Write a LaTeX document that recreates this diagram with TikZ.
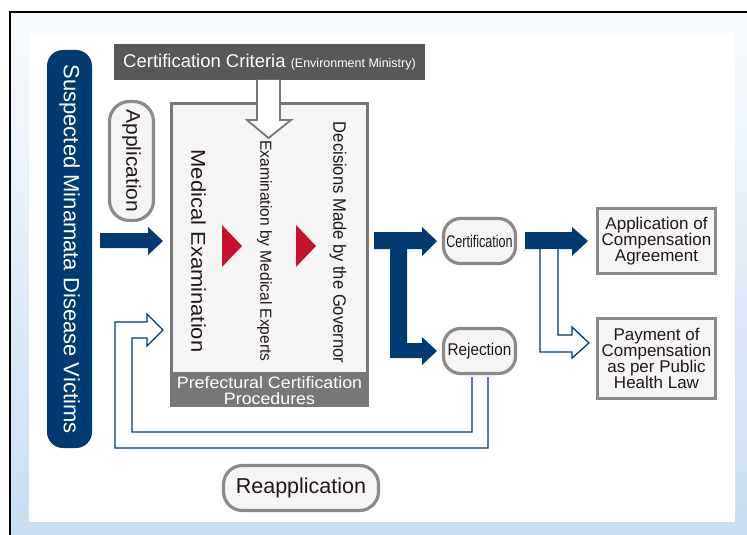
\documentclass[tikz,border=0pt]{standalone}
\usepackage{fontspec}
\usepackage{graphicx}
\setmainfont{Liberation Sans}
\definecolor{navy}{HTML}{003A70}
\definecolor{dgray}{HTML}{595757}
\definecolor{mgray}{HTML}{777777}
\definecolor{bgray}{HTML}{8A8A8A}
\definecolor{lfill}{HTML}{F5F5F5}
\definecolor{redtri}{HTML}{C8102E}
\definecolor{txt}{HTML}{231815}
\definecolor{bgtop}{HTML}{F9FBFE}
\definecolor{bgbot}{HTML}{C8DDF2}
\begin{document}
\begin{tikzpicture}[x=1pt,y=-1pt,
  pill/.style={draw=bgray, line width=3.2pt, fill=lfill, rounded corners=17pt, text=txt, inner sep=0pt},
  resbox/.style={draw=bgray, line width=3pt, fill=lfill, text=txt, align=center, inner sep=0pt, font=\fontsize{17}{16}\selectfont},
  lbl/.style={text=txt, inner sep=0pt},
  navyarrow/.style={fill=navy},
  hollow/.style={draw=navy, fill=white, line width=1.3pt, line join=miter},
]
\useasboundingbox (0,0) rectangle (747,535);
% background
\fill[white] (0,0) rectangle (747,535);
\shade[top color=bgtop, bottom color=bgbot] (10,12) rectangle (747,535);
\draw[black, line width=1.4pt] (747,12) -- (10,12) -- (10,535);
\fill[white] (29,33) rectangle (735,522);

% victims
\node[fill=navy, rounded corners=16pt, rotate=-90, minimum width=398pt, minimum height=45pt,
      text=white, font=\fontsize{22}{22}\selectfont, inner sep=0pt] (victims) at (69.5,249)
      {Suspected Minamata Disease Victims};

% criteria
\node[fill=dgray, minimum width=311pt, minimum height=36pt, text=white, inner sep=0pt] (crit) at (269.5,62)
      {\fontsize{18.5}{18}\selectfont Certification Criteria \fontsize{12.5}{12}\selectfont(Environment Ministry)};

% procedure box
\node[draw=mgray, line width=3.5pt, fill=lfill, minimum width=196pt, minimum height=302pt, inner sep=0pt] (proc) at (269.5,254.5) {};
\fill[mgray] (170,372) rectangle (369,407);
\node[text=white, align=center, inner sep=0pt, font=\fontsize{16.5}{16}\selectfont] (band) at (269.5,391)
      {\scalebox{1.08}[1]{Prefectural Certification}\\\scalebox{1.08}[1]{Procedures}};

% hollow down arrow from criteria
\filldraw[draw=mgray, fill=white, line width=1.8pt, line join=miter]
  (257,80) -- (257,120) -- (247,120) -- (268.5,138) -- (291,120) -- (280,120) -- (280,80);

% inner texts
\node[lbl, rotate=-90, font=\fontsize{20}{20}\selectfont] (med) at (198.5,251) {\scalebox{1.1}[1]{Medical Examination}};
\node[lbl, rotate=-90, font=\fontsize{16}{16}\selectfont] (exp) at (264.5,251) {\scalebox{0.97}[1]{Examination by Medical Experts}};
\node[lbl, rotate=-90, font=\fontsize{18}{18}\selectfont] (gov) at (338,242.5) {\scalebox{0.92}[1]{Decisions Made by the Governor}};

% red triangles
\fill[redtri] (222,225) -- (242,246) -- (222,267) -- cycle;
\fill[redtri] (296,225) -- (316,246) -- (296,267) -- cycle;

% application pill
\node[pill, rotate=-90, minimum width=119pt, minimum height=44pt, rounded corners=20pt,
      font=\fontsize{20}{20}\selectfont] (appl) at (131.5,161) {\scalebox{1.05}[1]{Application}};

% navy arrows
\fill[navyarrow] (100,233) -- (148,233) -- (148,227) -- (163,241) -- (148,255) -- (148,248) -- (100,248) -- cycle;
\fill[navyarrow] (374,232) -- (422,232) -- (422,227) -- (437,241) -- (422,256) -- (422,249) -- (407,249)
  -- (407,343) -- (422,343) -- (422,337) -- (437,351) -- (422,365) -- (422,358) -- (390,358) -- (390,249)
  -- (374,249) -- cycle;
\fill[navyarrow] (525,232) -- (572,232) -- (572,227) -- (588,241) -- (572,256) -- (572,249) -- (525,249) -- cycle;

% result pills
\node[pill, minimum width=72pt, minimum height=45pt] (cert) at (479.5,241)
      {\fontsize{17}{17}\selectfont\scalebox{0.74}[1]{Certification}};
\node[pill, minimum width=72pt, minimum height=45pt] (rej) at (479.5,351)
      {\fontsize{17}{17}\selectfont\scalebox{0.9}[1]{Rejection}};

% result boxes
\node[resbox, minimum width=118pt, minimum height=65pt] (agree) at (656.5,241)
      {Application of\\Compensation\\Agreement};
\node[resbox, minimum width=118pt, minimum height=80pt] (pay) at (656.5,358.5)
      {Payment of\\Compensation\\as per Public\\Health Law};

% hollow arrows
\filldraw[hollow] (540,249) -- (540,352) -- (572,352) -- (572,358) -- (589,343) -- (572,327) -- (572,335) -- (558,335) -- (558,249);
\filldraw[hollow] (472,377) -- (472,432) -- (132,432) -- (132,338) -- (147,338) -- (147,346) -- (163,330)
  -- (147,314) -- (147,322) -- (115,322) -- (115,448) -- (488,448) -- (488,377);

% reapplication
\node[pill, minimum width=155pt, minimum height=45pt, rounded corners=19pt,
      font=\fontsize{21.5}{21.5}\selectfont] (reapp) at (301,488) {Reapplication};
\end{tikzpicture}
\end{document}
